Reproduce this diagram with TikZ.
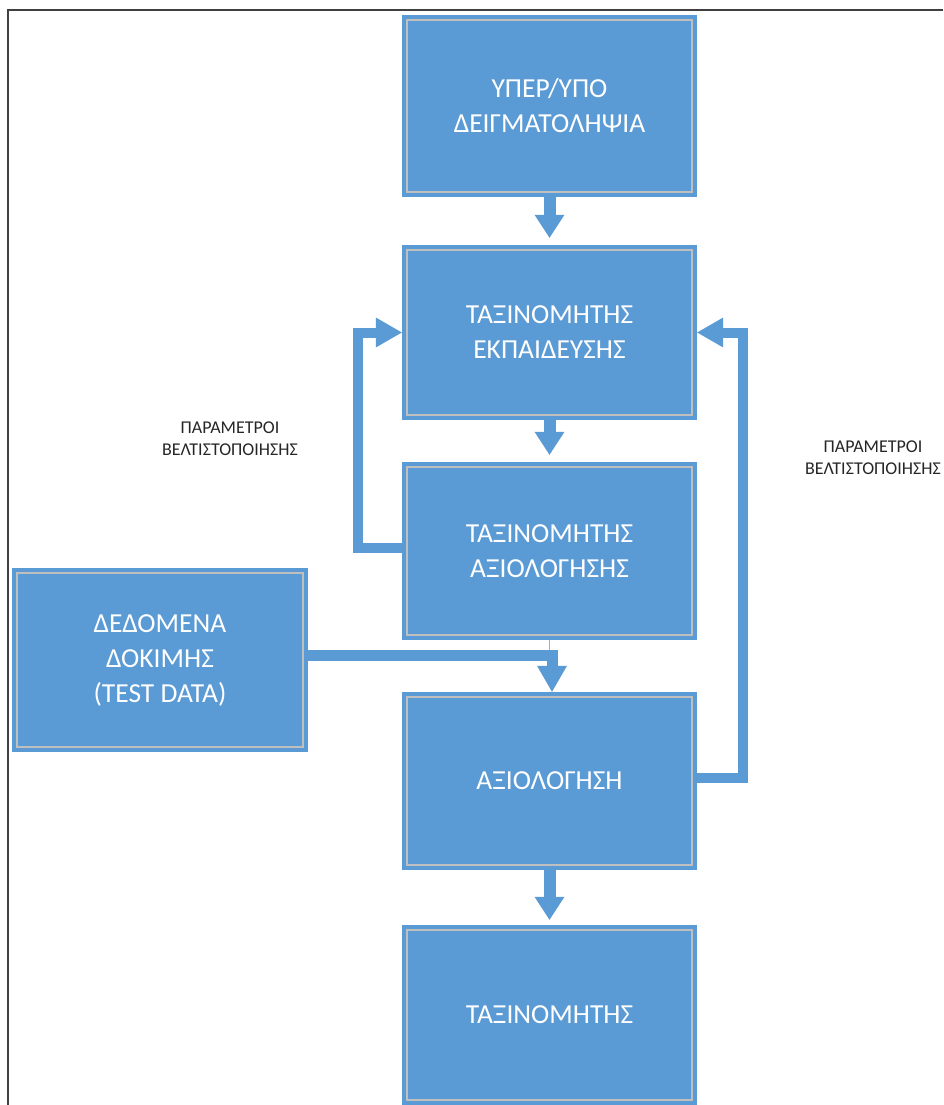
\documentclass[tikz,border=0pt]{standalone}
\usepackage{fontspec}
\setmainfont{Carlito}
\usetikzlibrary{arrows.meta,calc}
\definecolor{boxblue}{HTML}{5B9BD5}
\definecolor{innergray}{HTML}{BFBFBF}
\definecolor{labelgray}{HTML}{262626}
\definecolor{framegray}{HTML}{404040}
\begin{document}
\begin{tikzpicture}[x=1pt,y=-1pt,
  box/.style={fill=boxblue, minimum width=295pt, inner sep=0pt, text=white, align=center,
    font=\fontsize{27.5}{35}\selectfont,
    path picture={\draw[innergray,line width=1.5pt]
      ([shift={(5pt,5pt)}]path picture bounding box.south west) rectangle
      ([shift={(-5pt,-5pt)}]path picture bounding box.north east);}},
  dn/.style={boxblue, line width=12pt, -{Triangle[width=30pt,length=23pt,line width=0pt]}},
  fb/.style={boxblue, line width=10pt, -{Triangle[width=30pt,length=26pt,line width=0pt]}},
  thin/.style={boxblue!75!white, line width=1.5pt},
  lbl/.style={text=labelgray, align=center, font=\fontsize{18}{22}\selectfont, inner sep=0pt}]
\useasboundingbox (0,0) rectangle (943,1105);
\fill[white] (0,0) rectangle (943,1105);
\draw[framegray, line width=2.2pt] (8,1105) -- (8,10) -- (943,10);

\node[box, minimum height=182pt] (b1) at (549.5,106) {ΥΠΕΡ/ΥΠΟ\\ΔΕΙΓΜΑΤΟΛΗΨΙΑ};
\node[box, minimum height=175pt] (b2) at (549.5,332.5) {ΤΑΞΙΝΟΜΗΤΗΣ\\ΕΚΠΑΙΔΕΥΣΗΣ};
\node[box, minimum height=178pt] (b3) at (549.5,551) {ΤΑΞΙΝΟΜΗΤΗΣ\\ΑΞΙΟΛΟΓΗΣΗΣ};
\node[box, minimum width=296pt, minimum height=184pt] (b4) at (160,660) {ΔΕΔΟΜΕΝΑ\\ΔΟΚΙΜΗΣ\\(TEST DATA)};
\node[box, minimum height=178pt] (b5) at (549.5,781) {ΑΞΙΟΛΟΓΗΣΗ};
\node[box, minimum height=180pt] (b6) at (549.5,1015) {ΤΑΞΙΝΟΜΗΤΗΣ};

\node[lbl] (l1) at (230,439) {ΠΑΡΑΜΕΤΡΟΙ\\ΒΕΛΤΙΣΤΟΠΟΙΗΣΗΣ};
\node[lbl] (l2) at (873,458) {ΠΑΡΑΜΕΤΡΟΙ\\ΒΕΛΤΙΣΤΟΠΟΙΗΣΗΣ};

\draw[dn] (b1.south) -- ([yshift=7pt]b2.north);
\draw[dn] (b2.south) -- ([yshift=7pt]b3.north);
\draw[dn] (b5.south) -- ([yshift=5pt]b6.north);

\coordinate (j) at (552,655);
\draw[thin] (b3.south) -- (b3.south |- j);
\draw[fb, line width=11pt] ([yshift=5pt]b4.east) -- (j) -- (j |- b5.north);

\draw[fb] ([yshift=3pt]b3.west) -- ++(-44,0) |- (b2.west);
\draw[fb] ([yshift=3pt]b5.east) -- ++(46,0) |- (b2.east);
\end{tikzpicture}
\end{document}
